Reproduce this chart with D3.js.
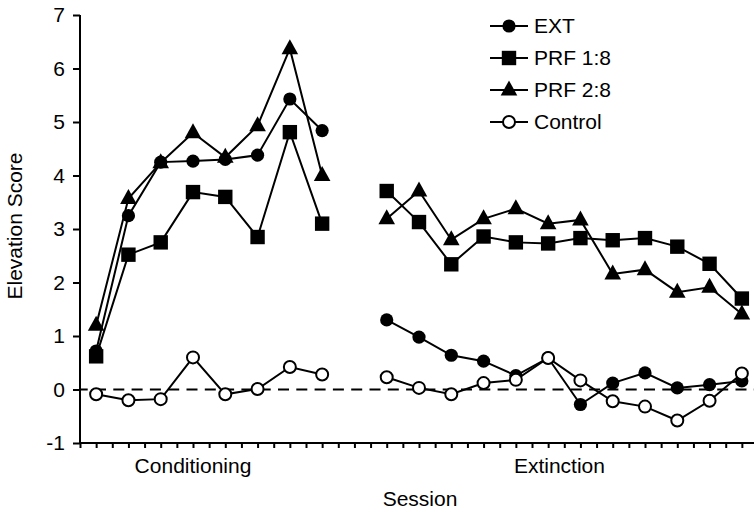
<!DOCTYPE html>
<html>
<head>
<meta charset="utf-8">
<script src="https://cdn.jsdelivr.net/npm/d3@7"></script>
<style>
  html, body { margin: 0; padding: 0; background: #fff; }
  svg { display: block; font-family: "Liberation Sans", Arial, Helvetica, sans-serif; }
</style>
</head>
<body>
<svg id="chart" width="754" height="512"></svg>
<script>
// ---- Data ----
const condSessions = [1, 3, 5, 7, 9, 11, 13, 15];
const extSessions = [19, 21, 23, 25, 27, 29, 31, 33, 35, 37, 39, 41];

const extCond = [0.72, 3.25, 4.25, 4.27, 4.30, 4.38, 5.43, 4.84];
const extExt = [1.30, 0.98, 0.64, 0.53, 0.26, 0.59, -0.28, 0.12, 0.31, 0.03, 0.09, 0.16];

const prf18Cond = [0.62, 2.52, 2.75, 3.69, 3.60, 2.85, 4.81, 3.10];
const prf18Ext = [3.71, 3.13, 2.34, 2.86, 2.75, 2.73, 2.83, 2.79, 2.83, 2.67, 2.35, 1.70];

const prf28Cond = [1.20, 3.57, 4.24, 4.80, 4.34, 4.93, 6.37, 4.00];
const prf28Ext = [3.19, 3.71, 2.80, 3.19, 3.38, 3.10, 3.17, 2.16, 2.24, 1.82, 1.91, 1.41];

const controlCond = [-0.09, -0.20, -0.18, 0.60, -0.09, 0.01, 0.42, 0.28];
const controlExt = [0.23, 0.03, -0.09, 0.12, 0.18, 0.59, 0.17, -0.22, -0.32, -0.58, -0.21, 0.30];

const seriesNames = ["EXT", "PRF 1:8", "PRF 2:8", "Control"];
const yTicks = [-1, 0, 1, 2, 3, 4, 5, 6, 7];
const phaseLabels = ["Conditioning", "Extinction"];
const phaseLabelPos = [7, 29.7];

// ---- Setup ----
const svg = d3.select("#chart");
const x = d3.scaleLinear().domain([0, 42]).range([80, 758]);
const y = d3.scaleLinear().domain([-1, 7]).range([443, 15]);

const series = [
  { name: seriesNames[0], shape: "circle", cond: extCond, ext: extExt },
  { name: seriesNames[1], shape: "square", cond: prf18Cond, ext: prf18Ext },
  { name: seriesNames[2], shape: "triangle", cond: prf28Cond, ext: prf28Ext },
  { name: seriesNames[3], shape: "open", cond: controlCond, ext: controlExt }
];

function drawMarker(g, shape, cx, cy) {
  if (shape === "circle") {
    g.append("circle").attr("cx", cx).attr("cy", cy).attr("r", 6.6).attr("fill", "#000");
  } else if (shape === "open") {
    g.append("circle").attr("cx", cx).attr("cy", cy).attr("r", 6).attr("fill", "#fff")
      .attr("stroke", "#000").attr("stroke-width", 2);
  } else if (shape === "square") {
    g.append("rect").attr("x", cx - 7.2).attr("y", cy - 7.2).attr("width", 14.4).attr("height", 14.4).attr("fill", "#000");
  } else if (shape === "triangle") {
    g.append("path").attr("d", `M${cx},${cy - 9.5}L${cx + 8.3},${cy + 5.5}L${cx - 8.3},${cy + 5.5}Z`).attr("fill", "#000");
  }
}

// zero dashed line
svg.append("line")
  .attr("x1", x(0)).attr("x2", 754)
  .attr("y1", y(0)).attr("y2", y(0))
  .attr("stroke", "#000").attr("stroke-width", 2)
  .attr("stroke-dasharray", "11,7.3").attr("stroke-dashoffset", 3.3);

// axes
const yAxis = d3.axisLeft(y).tickValues(yTicks).tickSize(7).tickPadding(8).tickFormat(d => String(d));
const yg = svg.append("g").attr("transform", `translate(${x(0)},0)`).call(yAxis);
yg.select(".domain").attr("stroke-width", 2).attr("d", `M0,${y(7)}V${y(-1)}`);
yg.selectAll(".tick line").attr("stroke-width", 2);
yg.selectAll(".tick text").attr("font-size", 21).attr("font-family", "Liberation Sans, Arial, sans-serif").attr("fill", "#000");

const xAxis = d3.axisBottom(x).tickValues(d3.range(0, 43)).tickSize(5).tickFormat("");
const xg = svg.append("g").attr("transform", `translate(0,${y(-1)})`).call(xAxis);
xg.select(".domain").attr("stroke-width", 2).attr("d", `M${x(0) - 1},0H754`);
xg.selectAll(".tick line").attr("stroke-width", 2);

// lines and markers
const line = d3.line().x(d => x(d[0])).y(d => y(d[1]));
series.forEach(s => {
  const segs = [
    condSessions.map((t, i) => [t, s.cond[i]]),
    extSessions.map((t, i) => [t, s.ext[i]])
  ];
  segs.forEach(seg => {
    svg.append("path").attr("d", line(seg)).attr("fill", "none")
      .attr("stroke", "#000").attr("stroke-width", 2);
  });
});
series.forEach(s => {
  const g = svg.append("g");
  condSessions.forEach((t, i) => drawMarker(g, s.shape, x(t), y(s.cond[i])));
  extSessions.forEach((t, i) => drawMarker(g, s.shape, x(t), y(s.ext[i])));
});

// legend
const legend = svg.append("g");
series.forEach((s, i) => {
  const ly = 26 + i * 32;
  legend.append("line").attr("x1", 490).attr("x2", 528).attr("y1", ly).attr("y2", ly)
    .attr("stroke", "#000").attr("stroke-width", 2);
  drawMarker(legend, s.shape, 509, ly);
  legend.append("text").attr("x", 534).attr("y", ly).attr("dy", "0.35em")
    .attr("font-size", 21).text(s.name);
});

// labels
phaseLabels.forEach((lab, i) => {
  svg.append("text").attr("x", x(phaseLabelPos[i])).attr("y", 473)
    .attr("text-anchor", "middle").attr("font-size", 21).text(lab);
});
svg.append("text").attr("x", 420).attr("y", 506).attr("text-anchor", "middle")
  .attr("font-size", 21).text("Session");
svg.append("text").attr("transform", "translate(22,226) rotate(-90)")
  .attr("text-anchor", "middle").attr("font-size", 21).text("Elevation Score");
</script>
</body>
</html>
